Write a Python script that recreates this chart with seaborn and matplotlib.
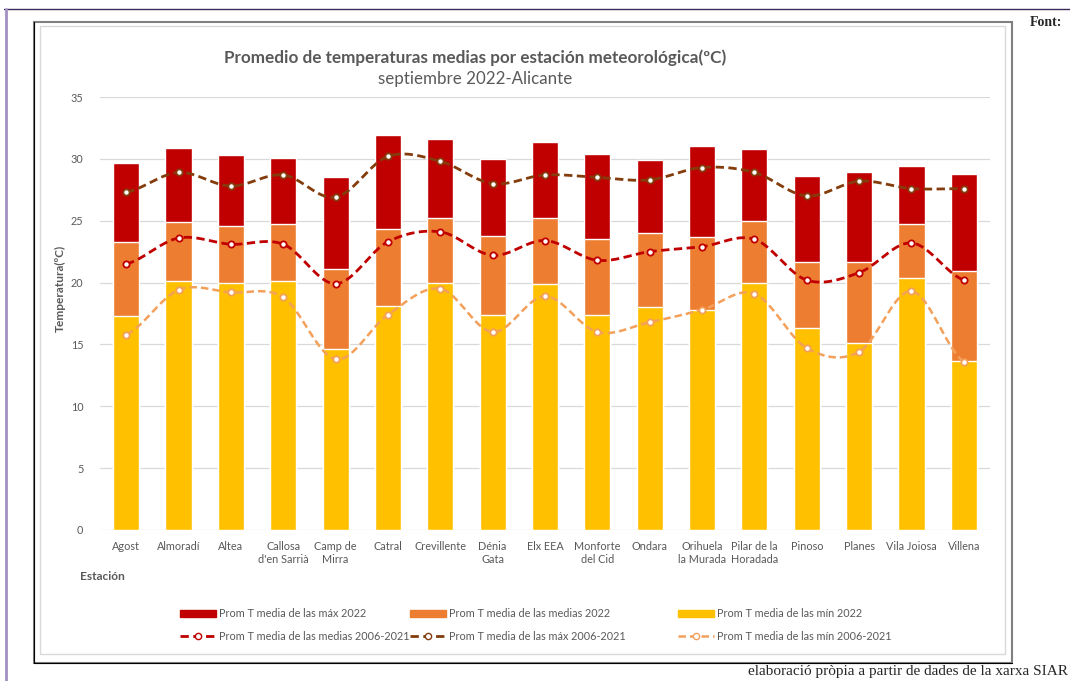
import numpy as np
import matplotlib
matplotlib.use('Agg')
import matplotlib.pyplot as plt
import seaborn as sns
from matplotlib.lines import Line2D
from matplotlib.patches import Patch, Rectangle

# ==================== DATOS ====================
estaciones = ['Agost', 'Almoradí', 'Altea', "Callosa\nd'en Sarrià", 'Camp de\nMirra', 'Catral',
              'Crevillente', 'Dénia\nGata', 'Elx EEA', 'Monforte\ndel Cid', 'Ondara',
              'Orihuela\nla Murada', 'Pilar de la\nHoradada', 'Pinoso', 'Planes', 'Vila Joiosa', 'Villena']

max_2022 = [29.7, 30.9, 30.3, 30.1, 28.5, 31.9, 31.6, 30.0, 31.4, 30.4, 29.9, 31.0, 30.8, 28.6, 28.9, 29.4, 28.8]
medias_2022 = [23.3, 24.9, 24.6, 24.7, 21.1, 24.3, 25.2, 23.8, 25.2, 23.5, 24.0, 23.7, 25.0, 21.7, 21.7, 24.7, 20.9]
min_2022 = [17.3, 20.1, 20.0, 20.1, 14.6, 18.1, 20.0, 17.4, 19.9, 17.4, 18.0, 17.8, 20.0, 16.3, 15.1, 20.4, 13.7]

max_hist = [27.3, 28.9, 27.8, 28.7, 26.9, 30.2, 29.8, 28.0, 28.7, 28.5, 28.3, 29.3, 28.9, 27.0, 28.2, 27.6, 27.6]
medias_hist = [21.5, 23.6, 23.1, 23.1, 19.9, 23.3, 24.1, 22.2, 23.4, 21.8, 22.5, 22.9, 23.5, 20.2, 20.8, 23.2, 20.2]
min_hist = [15.8, 19.4, 19.2, 18.8, 13.8, 17.4, 19.5, 16.0, 18.9, 16.0, 16.8, 17.8, 19.1, 14.7, 14.4, 19.3, 13.6]

y_ticks = [0, 5, 10, 15, 20, 25, 30, 35]

# Colores
c_max, c_med, c_min = '#C00000', '#ED7D31', '#FFC000'
c_hmed, c_hmax, c_hmin = '#C00000', '#843C0C', '#F3A05A'
gris = '#595959'

W, H = 1070, 681


def fx(x):
    return x / W


def fy(y):
    return 1 - y / H


def suavizar(y, n=24):
    # curva suave tipo Excel (Bezier / Catmull-Rom) que pasa por los puntos
    y = np.asarray(y, float)
    yp = np.concatenate([[y[0]], y, [y[-1]]])
    t = np.linspace(0, 1, n)
    xs, ys = [], []
    for i in range(len(y) - 1):
        p0, p1, p2, p3 = yp[i], yp[i + 1], yp[i + 2], yp[i + 3]
        c1 = p1 + (p2 - p0) / 6
        c2 = p2 - (p3 - p1) / 6
        ys.append((1 - t) ** 3 * p1 + 3 * (1 - t) ** 2 * t * c1 + 3 * (1 - t) * t ** 2 * c2 + t ** 3 * p2)
        xs.append(i + t)
    return np.concatenate(xs), np.concatenate(ys)


sns.set_theme(style='white')
plt.rcParams['font.family'] = ['Lato', 'DejaVu Sans']

fig = plt.figure(figsize=(W / 100, H / 100), dpi=100)
ax = fig.add_axes([fx(100), fy(530), fx(990) - fx(100), fy(97) - fy(530)])

# Barras superpuestas (máx, medias, mín)
sns.barplot(x=estaciones, y=max_2022, color=c_max, width=0.5, saturation=1, errorbar=None, ax=ax)
sns.barplot(x=estaciones, y=medias_2022, color=c_med, width=0.5, saturation=1, errorbar=None, ax=ax)
sns.barplot(x=estaciones, y=min_2022, color=c_min, width=0.5, saturation=1, errorbar=None, ax=ax)

# Líneas históricas 2006-2021
pos = np.arange(len(estaciones))
for serie, col, lw in [(max_hist, c_hmax, 2.0), (medias_hist, c_hmed, 2.0), (min_hist, c_hmin, 1.8)]:
    xs, ys = suavizar(serie)
    ax.plot(xs, ys, ls=(0, (3, 1.6)), color=col, lw=lw, zorder=4)
    ax.plot(pos, serie, ls='none', marker='o', ms=4.5, mfc='white', mec=col, mew=1.3, zorder=5)

ax.set_xlim(-0.5, len(estaciones) - 0.5)
ax.set_ylim(0, 35)
ax.set_yticks(y_ticks)
ax.yaxis.grid(True, color='#D9D9D9', lw=0.9)
ax.set_axisbelow(True)
for s in ax.spines.values():
    s.set_visible(False)
ax.tick_params(axis='both', length=0, labelsize=7.8, labelcolor=gris)
ax.tick_params(axis='x', pad=8)
ax.tick_params(axis='y', pad=12)
ax.set_xlabel('')
ax.set_ylabel('')

# Títulos y etiquetas
fig.text(fx(475), fy(58), 'Promedio de temperaturas medias por estación meteorológica(ºC)',
         ha='center', va='center', fontsize=12.3, fontweight='bold', color=gris)
fig.text(fx(475), fy(79), 'septiembre 2022-Alicante', ha='center', va='center', fontsize=12.2, color=gris)
fig.text(fx(60), fy(288), 'Temperatura(ºC)', rotation=90, ha='center', va='center',
         fontsize=8.6, fontweight='bold', color=gris)
fig.text(fx(80), fy(576), 'Estación', ha='left', va='center', fontsize=8.6, fontweight='bold', color=gris)

# Leyenda: tres columnas de ancho fijo, como en Excel
h_max = Patch(color=c_max, label='Prom T media de las máx 2022')
h_med = Patch(color=c_med, label='Prom T media de las medias 2022')
h_min = Patch(color=c_min, label='Prom T media de las mín 2022')
l_med = Line2D([0], [0], ls=(0, (3, 1.6)), color=c_hmed, lw=2, marker='o', ms=4.5, mfc='white', mec=c_hmed,
               label='Prom T media de las medias 2006-2021')
l_max = Line2D([0], [0], ls=(0, (3, 1.6)), color=c_hmax, lw=2, marker='o', ms=4.5, mfc='white', mec=c_hmax,
               label='Prom T media de las máx 2006-2021')
l_min = Line2D([0], [0], ls=(0, (3, 1.6)), color=c_hmin, lw=1.8, marker='o', ms=4.5, mfc='white', mec=c_hmin,
               label='Prom T media de las mín 2006-2021')
columnas = [([h_max, l_med], 180), ([h_med, l_max], 410), ([h_min, l_min], 678)]
for handles, x0 in columnas:
    leg = fig.legend(handles=handles, loc='center left', bbox_to_anchor=(fx(x0), fy(625)),
                     frameon=False, fontsize=7.8, handlelength=3.3, handleheight=0.6,
                     labelspacing=1.1, handletextpad=0.3, borderaxespad=0, borderpad=0)
    for t in leg.get_texts():
        t.set_color(gris)

# Marcos
fig.add_artist(Line2D([fx(4), 1], [fy(9), fy(9)], color='#3B2A5C', lw=1))
fig.add_artist(Line2D([fx(6), fx(6)], [fy(9), 0], color='#A48FC2', lw=2))
fig.add_artist(Rectangle((fx(34), fy(663)), fx(1012) - fx(34), fy(22) - fy(663), fill=False,
                         edgecolor='#7F7F7F', lw=1.5))
fig.add_artist(Line2D([fx(34), fx(34), fx(1012)], [fy(22), fy(663), fy(663)], color='black', lw=0.8))
fig.add_artist(Rectangle((fx(40), fy(654)), fx(1005) - fx(40), fy(26) - fy(654), fill=False,
                         edgecolor='#D9D9D9', lw=1))

fig.text(fx(1030), fy(22), 'Font:', ha='left', va='center', fontsize=10, fontweight='bold',
         family='Liberation Serif')
fig.text(fx(1068), fy(672), 'elaboració pròpia a partir de dades de la xarxa SIAR', ha='right', va='center',
         fontsize=11, family='Liberation Serif')

fig.savefig('out.png', dpi=100)
